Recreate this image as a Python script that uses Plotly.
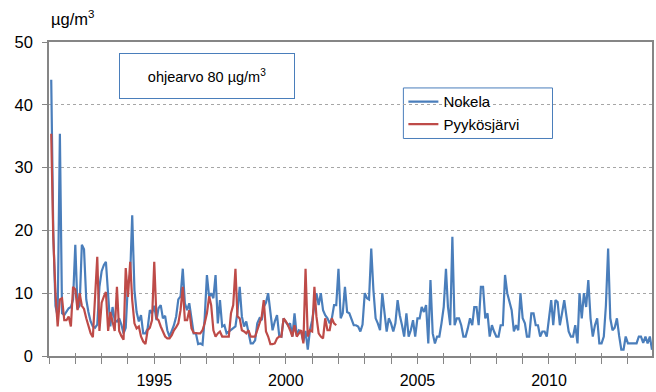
import pandas as pd
import plotly.graph_objects as go

# Monthly mean concentrations (µg/m³), Feb 1991 onwards
nokela = [
    44, 20, 8, 6.3, 35.4, 6.8, 6.5, 7, 7.6, 7.8, 9,
    17.7, 7.5, 8, 17.7, 17, 9, 7, 5.5, 4.7, 4.5, 5, 11,
    13.5, 14.5, 15, 9, 4.7, 7.8, 5.7, 5.5, 6, 5, 3.6, 4.5,
    11.6, 13, 22.4, 10.5, 7, 5.5, 6.5, 3.6, 3.6, 4.4, 7.3, 6.8,
    8, 5.7, 7.6, 8.1, 6, 6.4, 4.1, 3.1, 4, 4.9, 6.3, 9,
    9.5, 13.9, 8.4, 7.3, 8.4, 6.3, 3.6, 3.6, 1.9, 2, 1.8, 6,
    12.9, 9.4, 10, 9.2, 12.9, 5.2, 8.9, 4.7, 4.9, 3.6, 3.9, 4.1,
    4.5, 4.7, 7, 11, 6.3, 4.7, 5.5, 3.5, 2, 2, 2.5, 5.2,
    6, 5.7, 7.8, 8.5, 10, 7, 4.1, 5.5, 6.5, 3.3, 3.1, 6,
    5.5, 4.9, 5.2, 3.1, 6.8, 3.3, 4.1, 3.9, 2.3, 4, 1, 4.1,
    5.7, 7.8, 10, 8.1, 10, 7.3, 6.5, 6, 5.2, 6, 8.1, 8.1,
    13.9, 6, 6.8, 11, 7, 6.8, 5.7, 4.9, 4.9, 4.7, 3.9, 5,
    10, 9.2, 9, 17.1, 10.5, 6, 5.2, 4.1, 10, 6.5, 3.9, 6,
    5.2, 3.9, 5.2, 8.9, 6.5, 4.9, 3.1, 6.8, 3.1, 4.1, 5.7, 3.1,
    6, 6, 7.8, 7, 8.1, 2, 12.1, 3.6, 2, 3.1, 3.1, 5.2,
    7.8, 13.9, 7.8, 4.9, 19, 4.9, 6, 6, 4.9, 3.1, 3.1, 4.4,
    6, 4.9, 7.8, 7.8, 4.9, 11, 11, 6, 6.8, 3.1, 4.9, 3.9,
    3.1, 3.1, 4.9, 4.9, 12.9, 10, 8.6, 7.3, 3.9, 4.9, 4.1, 10,
    6, 5.2, 3.1, 3.1, 6.8, 6.8, 4.9, 4.9, 3.1, 3.9, 3.9, 3.1,
    6, 8.9, 4.9, 8.9, 8.6, 4.9, 6.8, 8.9, 6.3, 3.9, 3.1, 3.1,
    4.9, 2, 10, 6, 10, 7.8, 12.1, 6, 3.1, 4.9, 6, 2,
    2, 3.1, 8, 17.1, 6, 4.1, 4.5, 6, 3.2, 1, 1, 3.1,
    2, 2, 2, 2, 2, 3.1, 3.1, 2.1, 3.1, 2, 3.1, 1,
]

pyykosjarvi = [
    35.4, 19, 10, 4.7, 9, 9.2, 5.7, 5.7, 6.3, 4.7, 11,
    10.6, 7.3, 10, 8, 7.5, 6, 4.8, 3.6, 3, 9, 15.8, 4,
    8.5, 9.5, 10.2, 4, 7, 5.5, 4, 11, 4, 3.2, 2.6, 14,
    9.4, 15, 8.9, 5.2, 4.4, 4.7, 3.1, 2.3, 1.9, 4.1, 4.5, 5.7,
    15, 6, 5.7, 4.7, 3.9, 3.1, 2.8, 2.8, 3.3, 4.1, 4.6, 5.2,
    7.3, 11, 5.7, 5.7, 7.3, 4.4, 3.7, 3.6, 3.6, 3.6, 4.1, 5.2,
    6.8, 9.5, 8.1, 4.1, 3.1, 3.6, 3.9, 3.1, 3.1, 3.1, 3.1, 6.8,
    8.1, 13.9, 6.3, 6, 4.1, 3.9, 3.6, 4.1, 3.1, 3.1, 3.1, 4.1,
    5.2, 6.3, 8.9, 3.9, 3.1, 1.9, 1.9, 2, 2.8, 3.1, 3.1, 6,
    5.5, 4.9, 4.1, 3.1, 4.9, 3.1, 3.6, 4.1, 2, 13.9, 3.1, 4.1,
    3.9, 11, 6.3, 3.6, 3.1, 2.8, 6, 4.1, 4.1, 6, 5.2, 4.9,
]

first_month = "1991-02-01"
series_names = ["Nokela", "Pyykösjärvi"]
series_colors = ["#4A7EBB", "#BE4B48"]
axis_start, axis_end = "1991-01-01", "2013-12-01"
label_start = "1995-01-01"
y_ticks = [0, 10, 20, 30, 40, 50]
unit_label = "µg/m<sup>3</sup>"
guide_text = "ohjearvo 80 µg/m<sup>3</sup>"

font_family = "Liberation Sans, Arial, sans-serif"
axis_grey = "#868686"
frame_blue = "#4A7EBB"

fig = go.Figure()
for name, values, color in zip(series_names, [nokela, pyykosjarvi], series_colors):
    dates = pd.date_range(first_month, periods=len(values), freq="MS")
    fig.add_trace(go.Scatter(
        x=dates, y=values, name=name, mode="lines",
        line=dict(color=color, width=2.2),
    ))

# Invisible trace so the secondary (inside-tick) axis is rendered
fig.add_trace(go.Scatter(
    x=pd.date_range(first_month, periods=len(nokela), freq="MS"), y=nokela,
    xaxis="x2", mode="lines", line=dict(width=0), opacity=0,
    showlegend=False, hoverinfo="skip",
))

x_range = [pd.Timestamp(axis_start), pd.Timestamp(axis_end)]

fig.update_layout(
    width=656, height=392,
    margin=dict(l=49, r=4, t=42, b=36),
    paper_bgcolor="white", plot_bgcolor="white",
    font=dict(family=font_family, size=15, color="#000000"),
    xaxis=dict(
        type="date", range=x_range, automargin=False,
        tick0=label_start, dtick="M60", tickformat="%Y",
        ticks="outside", ticklen=6, tickcolor=axis_grey, tickwidth=1,
        minor=dict(dtick="M12", tick0=axis_start, ticks="outside", ticklen=6,
                   tickcolor=axis_grey, tickwidth=1, showgrid=False),
        ticklabelstandoff=3,
        showgrid=False, zeroline=False,
        showline=True, linecolor=axis_grey, linewidth=1.5, mirror=True,
        tickfont=dict(size=16),
    ),
    xaxis2=dict(
        type="date", range=x_range, overlaying="x", anchor="y", side="bottom",
        automargin=False, tick0=axis_start, dtick="M12",
        ticks="inside", ticklen=3, tickcolor=axis_grey, tickwidth=1,
        showgrid=False, zeroline=False, showline=False, showticklabels=False,
    ),
    yaxis=dict(
        range=[0, 50], tickmode="array", tickvals=y_ticks, automargin=False,
        ticks="outside", ticklen=5, tickcolor=axis_grey, tickwidth=1,
        ticklabelstandoff=6,
        showgrid=True, gridcolor="#A6A6A6", gridwidth=1, griddash="dot",
        zeroline=False,
        showline=True, linecolor=axis_grey, linewidth=1.5, mirror=True,
        tickfont=dict(size=16.5),
    ),
    legend=dict(
        x=0.5877, y=0.862, xanchor="left", yanchor="top",
        borderwidth=0, bgcolor="rgba(0,0,0,0)",
        font=dict(size=15), itemwidth=30, tracegroupgap=0,
    ),
    showlegend=True,
)

# Frame around the legend entries
fig.add_shape(
    type="rect", xref="paper", yref="paper",
    x0=0.5877, x1=0.835, y0=0.6927, y1=0.8537,
    line=dict(color=frame_blue, width=1), fillcolor="white", layer="below",
)

fig.add_annotation(
    xref="paper", yref="paper", x=0, y=1.076, xanchor="left", yanchor="middle",
    text=unit_label, showarrow=False, font=dict(size=16.5),
)
fig.add_annotation(
    xref="paper", yref="paper", x=0.2618, y=0.8925, xanchor="center", yanchor="middle",
    text=guide_text, showarrow=False, font=dict(size=14.5),
    width=172, height=42, bordercolor=frame_blue, borderwidth=1, bgcolor="white",
    align="center",
)

fig.write_html("out.html")
